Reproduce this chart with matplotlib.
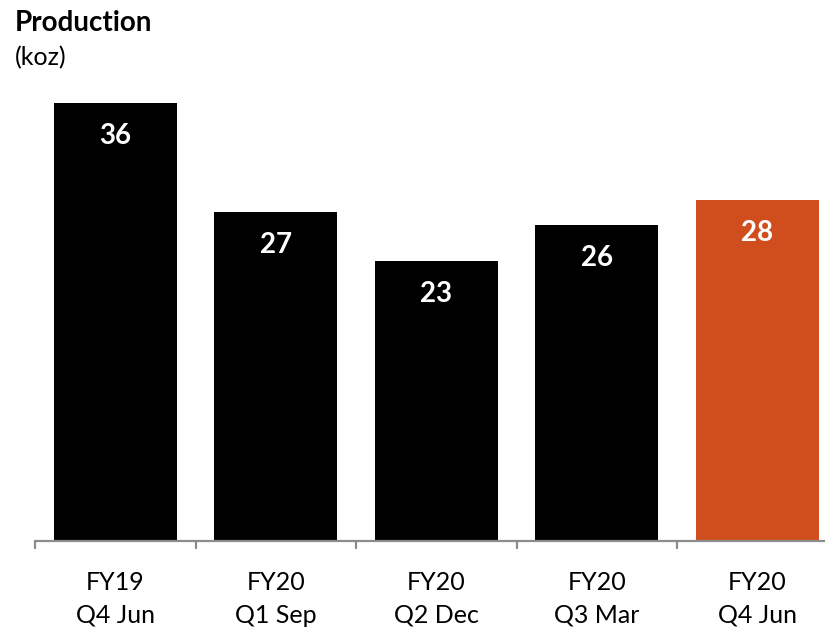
import numpy as np
import matplotlib
matplotlib.use("Agg")
import matplotlib.pyplot as plt
from matplotlib.ticker import FixedLocator

plt.rcParams['font.family'] = ['Lato', 'DejaVu Sans']

years = ["FY19", "FY20", "FY20", "FY20", "FY20"]
quarters = ["Q4 Jun", "Q1 Sep", "Q2 Dec", "Q3 Mar", "Q4 Jun"]
production = [36, 27, 23, 26, 28]
bar_colors = ["#000000", "#000000", "#000000", "#000000", "#D04E1E"]

fig = plt.figure(figsize=(8.25, 6.27), dpi=100)
ax = fig.add_axes([35 / 825, 86.5 / 627, 802.5 / 825, (540.5 - 54.5) / 627])

x = np.arange(len(production))
bars = ax.bar(x, production, width=0.766, color=bar_colors, zorder=2)

for b, v in zip(bars, production):
    ax.annotate(str(v), (b.get_x() + b.get_width() / 2, v),
                xytext=(0, -33), textcoords='offset pixels',
                ha='center', va='center', color='white',
                fontsize=20, fontweight='bold')

ax.set_xlim(-0.5, len(production) - 0.5)
ax.set_ylim(0, 40)

for s in ["top", "right", "left"]:
    ax.spines[s].set_visible(False)
ax.spines["bottom"].set_color("#8C8C8C")
ax.spines["bottom"].set_linewidth(1.6)
ax.spines["bottom"].set_zorder(3)
ax.set_yticks([])

ax.set_xticks(x)
ax.set_xticklabels([f"{a}\n{b}" for a, b in zip(years, quarters)],
                   fontsize=18, linespacing=1.5)
ax.tick_params(axis='x', which='major', length=0, pad=22, colors='black')
ax.xaxis.set_minor_locator(FixedLocator(np.arange(-0.5, len(production), 1.0)))
ax.tick_params(axis='x', which='minor', length=6, width=1.6, color="#8C8C8C")

fig.text(15 / 825, 1 - 31 / 627, "Production", fontsize=20, fontweight='bold',
         ha='left', va='baseline')
fig.text(15 / 825, 1 - 65 / 627, "(koz)", fontsize=18,
         ha='left', va='baseline')

fig.savefig("out.png", dpi=100)
